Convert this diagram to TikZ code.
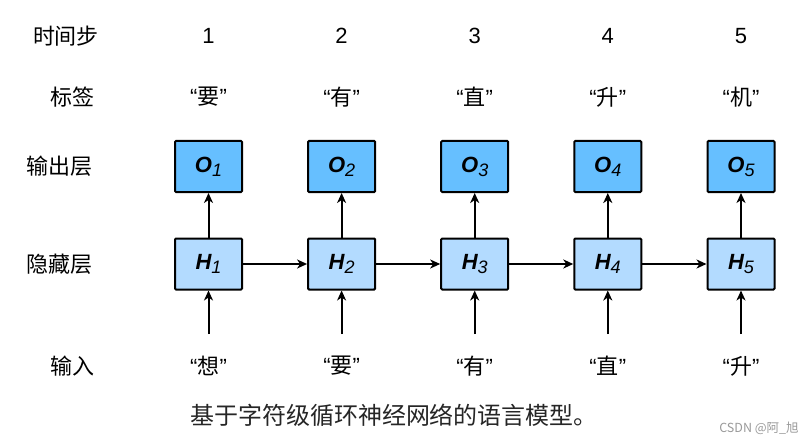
\documentclass[tikz,border=0pt]{standalone}
\usepackage{fontspec}
\setmainfont{Noto Sans CJK SC}
\newfontfamily\lat{Liberation Sans}
\usetikzlibrary{arrows.meta}
\definecolor{ocol}{HTML}{66BFFF}
\definecolor{hcol}{HTML}{B3DBFF}
\newcommand{\qt}[1]{{\lat “}#1{\lat ”}}
\newcommand{\bl}[2]{{\lat\bfseries\itshape\fontsize{22}{22}\selectfont #1}\raisebox{-4pt}{\lat\itshape\fontsize{18}{18}\selectfont #2}}
\begin{document}
\begin{tikzpicture}[x=1pt,y=-1pt,
  lbl/.style={font=\fontsize{22}{22}\selectfont, inner sep=0pt},
  captxt/.style={font=\fontsize{24}{24}\selectfont, inner sep=0pt, text=black!85},
  obox/.style={draw, line width=2pt, fill=ocol, minimum width=67pt, minimum height=51pt, rounded corners=1pt, inner sep=0pt},
  hbox/.style={obox, fill=hcol},
  arr/.style={line width=2pt, -{Stealth[length=10pt,width=9pt,inset=3pt]}}
]
\useasboundingbox (0,0) rectangle (807,444);
\node[lbl] (t0) at (66,36) {时间步};
\node[lbl] (l0) at (72,97) {标签};
\node[lbl] (o0) at (60,166) {输出层};
\node[lbl] (h0) at (60,264) {隐藏层};
\node[lbl] (i0) at (72,366) {输入};
\foreach \i/\x/\lab/\inp in {1/208.5/要/想, 2/341.6/有/要, 3/474.7/直/有, 4/607.8/升/直, 5/741/机/升}{
  \node[lbl, font=\lat\fontsize{22}{22}\selectfont] (t\i) at (\x,36) {\i};
  \node[lbl] (l\i) at (\x,97) {\qt{\lab}};
  \node[obox] (o\i) at (\x,166.5) {\bl{O}{\i}};
  \node[hbox] (h\i) at (\x,264) {\bl{H}{\i}};
  \node[lbl] (i\i) at (\x,366) {\qt{\inp}};
  \coordinate (s\i) at (\x,334);
  \draw[arr] (s\i) -- (h\i.south);
  \draw[arr] (h\i.north) -- (o\i.south);
}
\foreach \a/\b in {1/2,2/3,3/4,4/5}{
  \draw[arr] (h\a.east) -- (h\b.west);
}
\node[captxt] (c) at (394,415) {基于字符级循环神经网络的语言模型。};
\node[inner sep=0pt, text=gray!80, font=\fontsize{12.5}{12.5}\selectfont] (w) at (759,428) {CSDN @阿\_旭};
\end{tikzpicture}
\end{document}
